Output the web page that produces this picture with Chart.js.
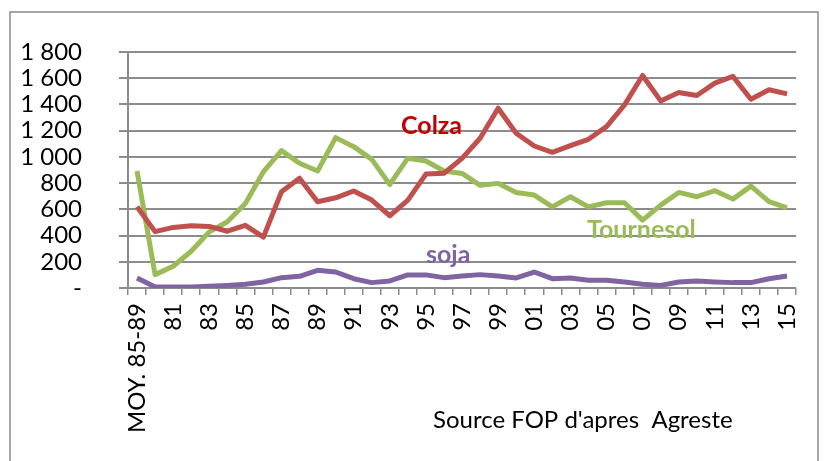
<!DOCTYPE html>
<html>
<head>
<meta charset="utf-8">
<script src="https://cdn.jsdelivr.net/npm/chart.js@4/dist/chart.umd.min.js"></script>
<style>
  html, body { margin: 0; padding: 0; background: #fff; }
  #wrap { width: 824px; height: 461px; position: relative; }
</style>
</head>
<body>
<div id="wrap"><canvas id="chart" width="824" height="461"></canvas></div>
<script>
// Categories: 5-year average, then 1980 .. 2015
const years = ["MOY. 85-89"];
for (let y = 80; y <= 115; y++) years.push(String(y % 100).padStart(2, "0"));

const colza = [620, 430, 462, 474, 470, 433, 478, 388, 734, 837, 658, 688, 740, 671, 551, 670,
  869, 875, 989, 1142, 1371, 1180, 1083, 1035, 1086, 1134, 1231, 1397, 1621, 1427, 1491, 1468,
  1563, 1614, 1440, 1512, 1481];
const tournesol = [892, 102, 166, 280, 428, 505, 645, 887, 1048, 951, 892, 1147, 1078, 981, 790, 990,
  969, 892, 874, 783, 798, 729, 709, 619, 696, 619, 650, 650, 518, 632, 729, 696,
  742, 678, 777, 658, 612];
const soja = [77, 8, 8, 8, 13, 20, 28, 46, 79, 89, 135, 122, 71, 41, 54, 100,
  100, 79, 92, 102, 92, 77, 122, 71, 77, 59, 59, 46, 28, 20, 46, 54,
  46, 41, 41, 71, 92];

const yTicks = [0, 200, 400, 600, 800, 1000, 1200, 1400, 1600, 1800];

const FONT = "Lato, 'Open Sans', sans-serif";
const GRID = "#8c8c8c";

function fmtThousands(v) {
  if (v === 0) return "-";
  return String(v).replace(/\B(?=(\d{3})+(?!\d))/g, " ");
}

// frame + free texts
const decor = {
  id: "decor",
  afterDraw(chart) {
    const ctx = chart.ctx;
    ctx.save();
    ctx.strokeStyle = "#8a8a8a";
    ctx.lineWidth = 1.5;
    ctx.strokeRect(10, 12, 808, 470);

    ctx.textBaseline = "alphabetic";
    ctx.textAlign = "left";
    ctx.font = "bold 25px " + FONT;
    ctx.fillStyle = "#C00000";
    ctx.fillText("Colza", 401, 134);
    ctx.fillStyle = "#9BBB59";
    ctx.fillText("Tournesol", 587, 238);
    ctx.fillStyle = "#8064A2";
    ctx.fillText("soja", 426, 263);

    ctx.font = "24px " + FONT;
    ctx.fillStyle = "#000";
    ctx.fillText("Source FOP d'apres  Agreste", 433, 428);
    ctx.restore();
  }
};

const line = (label, data, color) => ({
  label, data,
  borderColor: color,
  backgroundColor: color,
  borderWidth: 5,
  pointRadius: 0,
  tension: 0,
  borderJoinStyle: "round",
  fill: false
});

new Chart(document.getElementById("chart"), {
  type: "line",
  data: {
    labels: years,
    datasets: [
      line("Colza", colza, "#C0504D"),
      line("Tournesol", tournesol, "#9BBB59"),
      line("soja", soja, "#8064A2")
    ]
  },
  options: {
    responsive: false,
    animation: false,
    layout: { padding: { top: 52, right: 11, left: 0, bottom: 0 } },
    plugins: { legend: { display: false }, tooltip: { enabled: false } },
    scales: {
      x: {
        offset: true,
        grid: { offset: true, drawOnChartArea: false, drawTicks: true, tickLength: 7, color: GRID, lineWidth: 1.5 },
        border: { display: false },
        ticks: {
          autoSkip: false,
          minRotation: 90,
          maxRotation: 90,
          padding: 8,
          color: "#000",
          font: { family: FONT, size: 24 },
          callback(v, i) { return i % 2 === 0 ? years[i] : ""; }
        },
        afterFit(scale) { scale.height = 173; }
      },
      y: {
        min: 0,
        max: 1800,
        afterBuildTicks(scale) { scale.ticks = yTicks.map(v => ({ value: v })); },
        grid: { color: GRID, lineWidth: 2, drawTicks: true, tickLength: 9 },
        border: { display: true, color: GRID, width: 2 },
        ticks: {
          autoSkip: false,
          padding: 37,
          color: "#000",
          font: { family: FONT, size: 24 },
          callback(v) { return fmtThousands(v); }
        },
        afterFit(scale) { scale.width = 128; }
      }
    }
  },
  plugins: [decor]
});
</script>
</body>
</html>
